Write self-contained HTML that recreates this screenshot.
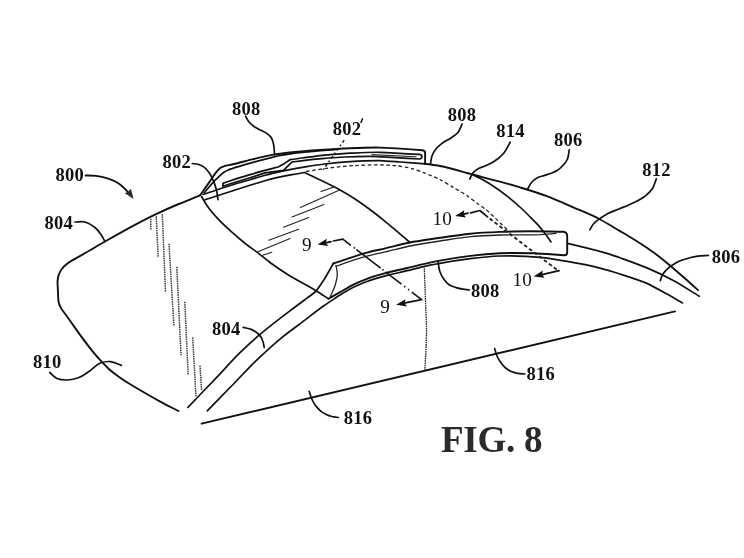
<!DOCTYPE html>
<html><head><meta charset="utf-8">
<style>
html,body{margin:0;padding:0;background:#fff;}
body{width:744px;height:558px;overflow:hidden;font-family:"Liberation Serif",serif;}
svg{display:block;filter:grayscale(100%) blur(0.4px);}
text{font-family:"Liberation Serif",serif;fill:#111;}
.b{font-weight:bold;font-size:18.5px;letter-spacing:0.25px;}
.r{font-size:19.2px;}
.m{fill:none;stroke:#111;stroke-width:1.9;stroke-linecap:round;stroke-linejoin:round;}
.t{fill:none;stroke:#222;stroke-width:1.1;stroke-linecap:round;stroke-linejoin:round;}
.l{fill:none;stroke:#111;stroke-width:1.7;stroke-linecap:round;stroke-linejoin:round;}
.h{fill:none;stroke:#383838;stroke-width:1.5;stroke-linecap:butt;}
.d{fill:none;stroke:#222;stroke-width:1.3;stroke-dasharray:3.6 2.6;}
</style></head><body>
<svg width="744" height="558" viewBox="0 0 744 558">
<rect width="744" height="558" fill="#fff"/>
<path class="m" d="M200.2,195.4 C193.0,198.3 185.8,201.0 178.7,204.0 C170.6,207.4 162.5,211.0 154.5,214.8 C146.3,218.7 138.3,223.0 130.3,227.3 C121.6,232.0 113.0,236.9 104.5,241.8 C99.6,244.6 94.8,247.5 90.0,250.3 C84.5,253.5 79.0,256.6 73.5,259.7 C64,265 57.8,271 57.5,282 L58.4,301 C58.6,304 59.6,306 61.5,309  C74.5,326.1 85.7,344.8 100.5,360.4 C103.6,363.7 106.6,367.0 110.0,370.0 C113.3,372.9 116.9,375.5 120.5,378.0 C127.0,382.6 133.9,386.5 140.7,390.5 C147.3,394.4 154.0,398.2 160.7,401.8 C166.5,405.0 172.5,407.9 178.4,411.0" />
<path class="m" d="M200.1,195.3 C202.7,191.6 207.1,185.2 209.7,181.6 C212.0,178.3 215.7,172.2 218.6,169.5 C219.3,168.9 220.4,167.7 221.2,167.3 C221.9,166.9 223.5,166.5 224.3,166.2 C226.3,165.6 230.0,165.0 232.0,164.5 C237.4,163.3 246.8,160.7 252.2,159.4 C257.5,158.1 266.9,155.9 272.3,154.9 C277.5,154.0 286.7,152.9 292.0,152.3 C299.4,151.5 312.5,150.5 320.0,150.0 C328.0,149.4 342.0,148.5 350.0,148.2 C358.0,147.9 372.0,147.4 380.0,147.6 C385.3,147.7 394.7,148.3 400.0,148.6 C406.0,149.0 416.4,149.8 422.4,150.3 C424.5,150.6 425.1,151.2 425.1,152.8 L425.1,163.8" />
<path class="l" d="M204.1,192.9 C207.3,189.2 212.7,182.6 216.2,179.2 C218.3,177.2 221.8,173.4 224.3,171.9 C225.3,171.3 227.2,170.4 228.3,169.9 C229.3,169.5 231.0,168.9 232.0,168.6 C237.3,166.8 246.8,164.1 252.2,162.6 C257.5,161.1 266.9,158.6 272.3,157.3 C274.9,156.7 279.4,155.7 282.0,155.2 C284.7,154.7 289.3,154.0 292.0,153.6 C296.8,152.9 305.2,152.1 310.0,151.6 C316.7,150.9 328.3,150.1 335.0,149.6" />
<path class="l" d="M222.9,183.4 C224.7,182.8 230.2,180.8 232.0,180.2 C235.6,179.0 246.4,175.7 250.0,174.6 C253.0,173.7 262.0,171.2 265.0,170.4 C267.7,169.7 276.0,167.5 278.7,166.8 L284.5,163.4 L290,159.7  C294.0,159.1 298.0,158.5 302.0,158.0 C309.7,157.0 317.3,155.9 325.0,155.1 C333.3,154.3 341.7,153.7 350.0,153.2 C360.0,152.7 370.0,152.1 380.0,152.3 C386.7,152.4 393.3,152.9 400.0,153.3 C406.6,153.6 413.1,154.0 419.7,154.4 C421.5,154.6 421.9,155.5 421.9,156.6 C421.9,158 421.3,158.8 419.7,159  C411.5,158.5 403.2,158.0 395.0,157.6 C386.7,157.2 378.3,156.5 370.0,156.4 C361.7,156.3 353.3,156.6 345.0,157.0 C338.3,157.3 331.7,157.8 325.0,158.3 C318.3,158.9 311.6,159.5 305.0,160.3 C300.6,160.8 296.2,161.5 291.8,162.1 L283.5,170.3 L265,172.9 L250,177.7 L232,183.2 L222.9,186.2 Z" />
<path class="t" d="M372.0,154.6 L416.0,156.7" />
<path class="l" d="M203.0,194.5 C210.7,192.0 224.2,187.4 232.0,185.0 C236.8,183.5 245.2,181.1 250.0,179.7 C254.0,178.5 261.0,176.3 265.0,175.2 C269.9,173.9 278.5,171.9 283.5,170.8 C289.3,169.6 299.5,167.7 305.3,166.8 C310.5,166.0 319.7,164.6 325.0,164.0 C331.6,163.2 343.3,162.1 350.0,161.6 C358.0,161.1 372.0,160.4 380.0,160.6 C385.3,160.8 394.7,161.6 400.0,162.0 C406.7,162.5 418.4,163.3 425.1,163.8" />
<path class="l" d="M205.0,199.8 C214.0,196.9 241.0,188.1 250.0,185.3 C253.0,184.4 262.0,181.5 265.0,180.7 C270.3,179.2 286.6,175.7 292.0,174.7 C294.5,174.2 302.0,172.9 304.5,172.5" />
<path class="m" d="M425.1,163.8 C430.1,164.5 435.1,165.1 440.0,166.0 C451.0,168.0 461.7,171.7 472.6,174.5 C481.7,176.9 490.9,179.2 500.0,181.7 C506.7,183.5 513.4,185.4 520.0,187.4 C529.0,190.1 538.1,192.8 546.9,196.1 C556.0,199.5 564.9,203.7 573.8,207.6 C582.3,211.3 591.0,214.7 599.3,219.0 C606.4,222.7 613.1,227.1 620.0,231.1 C622.2,232.4 624.5,233.7 626.7,235.0 C635.9,240.5 645.0,246.2 653.6,252.5 C659.1,256.5 664.4,260.8 669.7,265.2 C674.7,269.4 679.6,273.7 684.5,278.0 C689.0,282.0 693.5,286.1 698.0,290.1" />
<path class="l" d="M472.6,174.5 C478.4,177.7 484.4,180.5 490.0,184.0 C496.4,188.0 502.5,192.4 508.4,197.1 C512.7,200.6 516.9,204.2 521.0,208.0 C523.4,210.3 525.8,212.6 528.2,215.0 C531.3,218.1 534.6,221.1 537.5,224.4 C540.1,227.3 542.6,230.4 545.0,233.5 C547.1,236.2 549.0,239.1 551.0,241.9" />
<path class="l" d="M201.7,196.7 C203.5,199.7 205.1,202.8 207.1,205.7 C210.6,210.9 214.9,215.6 219.2,220.2 C223.0,224.2 227.2,228.0 231.3,231.7 C235.2,235.2 239.3,238.7 243.4,242.0 C248.1,245.8 253.1,249.2 257.9,252.9 C262.0,256.1 265.9,259.4 270.0,262.5 C276.1,267.0 282.4,271.2 288.8,275.2 C297.7,280.8 307.2,285.1 316.1,290.7 C320.2,293.3 324.2,296.0 328.3,298.7" />
<path class="l" d="M304.5,172.5 C313.5,176.9 329.6,184.1 338.4,189.0 C343.4,191.8 352.1,197.0 356.9,200.2 C360.6,202.7 367.0,207.3 370.6,210.0 C374.2,212.7 380.3,217.5 383.8,220.3 C388.2,223.8 395.6,230.2 399.9,233.8 C402.6,236.1 407.3,240.2 410.0,242.5" />
<path class="m" d="M333.3,263.5 C335.1,262.9 338.2,261.9 340.0,261.3 C347.2,259.0 359.6,254.6 366.9,252.6 C371.8,251.3 380.4,249.5 385.3,248.3 C391.9,246.8 403.3,243.8 409.9,242.5 C415.2,241.5 424.6,240.1 430.0,239.3 C432.7,238.9 437.3,238.2 440.0,237.8 C448.1,236.6 462.2,234.5 470.3,233.7 C478.2,232.9 492.1,232.2 500.0,231.9 C508.0,231.6 522.0,231.2 530.0,231.2 C538.9,231.2 554.3,231.6 563.2,231.8 C566,232 567.2,233.8 567.2,236.5 L567.2,252.6 C567.2,254.6 566.5,255.3 564.5,255.3  C556.3,254.8 541.8,253.6 533.6,253.3 C524.6,253.0 508.9,252.8 500.0,253.2 C492.1,253.6 478.2,254.9 470.3,255.9 C462.2,256.9 448.0,259.1 440.0,260.6 C437.3,261.1 432.7,262.0 430.0,262.6 C423.9,263.9 413.3,266.6 407.2,268.0 C401.8,269.3 392.3,271.3 387.0,272.7 C381.6,274.1 372.1,276.8 366.9,278.8 C363.2,280.2 356.9,282.9 353.4,284.6 C349.7,286.4 343.6,290.2 340.0,292.2 C337.0,293.9 331.6,297.0 328.6,298.8" />
<path class="t" d="M336.9,266.1 C337.7,265.8 339.2,265.2 340.0,264.9 C347.1,262.2 359.6,258.0 366.9,256.1 C371.8,254.8 380.4,253.0 385.3,251.9 C391.9,250.4 403.3,247.4 409.9,246.0 C417.9,244.4 432.0,242.2 440.0,241.0 C448.1,239.8 462.2,237.5 470.3,236.7 C478.2,235.9 492.1,235.3 500.0,235.0 C510.7,234.6 529.4,235.3 540.0,234.7 C544.3,234.4 551.7,233.7 556.0,233.4" style="stroke-width:1.3"/>
<path class="t" d="M335.9,265.3 C336.4,268.1 337.3,271.0 337.3,273.8 C337.4,277.9 336.1,282.1 334.9,286.0 C333.7,289.7 331.8,293.2 330.2,296.8" style="stroke-width:1.3"/>
<path class="l" d="M333.3,263.5 C331.1,267.4 326.2,276.3 323.8,280.0 C322.1,282.6 318.3,288.6 316.2,290.8 C313.9,293.3 307.2,297.9 304.5,300.0 C299.5,303.8 288.0,312.3 283.0,316.1 C277.4,320.4 264.7,330.3 259.4,334.9 C254.7,338.9 244.4,348.4 240.0,352.7 C233.9,358.6 220.9,373.0 215.0,379.2 C208.7,385.8 194.2,400.7 187.9,407.3" />
<path class="l" d="M207.3,410.8 C213.9,404.1 225.4,392.2 232.0,385.5 C238.7,378.6 250.3,366.3 257.2,359.7 C263.9,353.3 275.8,342.4 283.0,336.6 C288.6,332.1 298.8,324.7 304.5,320.4 C309.7,316.5 318.5,309.5 323.8,305.8 C326.6,303.8 331.6,300.5 334.5,298.6 C336.0,297.6 338.5,295.9 340.0,295.0 C343.5,292.8 349.7,289.1 353.4,287.3 C356.9,285.6 363.2,282.9 366.9,281.5 C372.1,279.5 381.6,276.8 387.0,275.4 C392.3,274.0 401.8,272.0 407.2,270.7 C413.3,269.3 423.9,266.5 430.0,265.2 C432.7,264.7 437.3,263.8 440.0,263.3 C448.0,261.8 462.2,259.6 470.3,258.6 C478.2,257.6 492.1,256.3 500.0,256.0 C510.7,255.6 529.6,256.2 540.3,257.3 C547.5,258.0 560.1,260.1 567.2,261.4 C576.0,262.9 591.4,265.9 600.0,268.1 C605.4,269.5 614.7,272.3 620.0,274.0 C627.2,276.3 640.0,280.3 646.9,283.4 C652.4,285.9 661.7,291.2 667.0,294.1 C671.2,296.4 678.4,300.6 682.5,302.9" />
<path class="l" d="M567.4,243.4 C570.8,244.2 576.6,245.5 580.0,246.3 C587.7,248.2 601.2,251.5 608.7,253.9 C611.7,254.9 617.0,256.7 620.0,257.8 C627.2,260.4 639.9,264.9 646.9,267.9 C654.2,271.0 666.8,276.9 673.8,280.7 C680.8,284.5 692.5,292.1 699.3,296.2" />
<path class="m" d="M201.6,423.7 L675.0,311.4" />
<path class="h" d="M424.3,268.2 L426.6,330.0 L426.0,350.0 L424.8,370.5" style="stroke:#222;stroke-width:1.3" stroke-dasharray="1.6 0.7"/>
<path class="t" d="M321.1,191.6 L334.5,186.8 M300.4,207.6 L339,190.3 M292,217 L324,204.6 M283.5,227.3 L308.7,217.6 M268.8,240.2 L298.6,229.2 M257.9,251.7 L290.1,238.6 M262.7,255.3 L271.8,252.3" />
<path class="h" d="M150.8,218.8 L150.8,230.2 M156.2,216.1 L158.2,257.6 M162.3,214.1 L165.5,292 M169,243.7 L173.9,326 M176.8,266.8 L181,355.2 M184.8,301.8 L188.2,375.3 M192.7,337.4 L196,397.1 M200,365.6 L201.6,390.6" stroke-dasharray="1.5 0.8"/>
<path class="d" d="M306.1,171.5 C312.5,170.5 323.6,168.6 330.0,167.8 C336.5,167.0 348.0,166.0 354.5,165.6 C361.3,165.2 373.2,164.8 380.0,164.9 C384.5,165.0 392.4,165.3 396.9,165.8 C401.0,166.3 408.1,167.5 412.0,168.6 C415.3,169.5 421.0,171.7 424.2,172.9 C428.5,174.5 435.9,177.4 440.0,179.5 C443.6,181.4 449.7,185.3 453.2,187.4 C456.8,189.6 463.3,193.1 466.8,195.5 C469.7,197.5 474.5,201.4 477.4,203.5 C479.4,204.9 483.0,207.3 484.9,208.8 C489.8,212.5 497.3,220.3 501.8,224.5 C503.7,226.3 507.1,229.5 509.0,231.3" />
<path class="d" d="M489.7,218.6 L556.7,269.6" style="stroke-width:1.9" stroke-dasharray="4.4 3"/>
<path class="l" d="M344.2,140.2 L321.7,171.7" style="stroke-width:1.35;stroke-linecap:butt" stroke-dasharray="3 2.6 1.6 2.6"/>
<path class="l" d="M327,242.6 L331,241.6 M333.4,241 L342.8,239.1" />
<path class="l" d="M342.8,239.1 L421.6,299.6" style="stroke-linecap:butt;stroke-width:1.55" stroke-dasharray="10.2 3.5 1.5 2 30.5 2.2 1.5 2.3 20.3 3.3 1.5 3.4 1.5 3.3 14"/>
<path class="l" d="M421.6,299.7 L404.0,303.2" />
<polygon points="317.5,244.5 326.8,238.7 326.0,242.7 328.3,246.0" fill="#111"/>
<polygon points="396.1,304.8 405.5,299.2 404.6,303.1 406.9,306.4" fill="#111"/>
<path class="l" d="M464,214.1 L468,213.2 M470.7,212.9 L479.8,210.5 L487.6,216.9" />
<polygon points="455.1,216.1 464.3,210.2 463.6,214.2 466.0,217.5" fill="#111"/>
<path class="l" d="M559.1,270.6 L542.0,274.6" />
<polygon points="533.6,276.5 542.8,270.6 542.1,274.5 544.5,277.8" fill="#111"/>
<path class="l" d="M85.6,175.5 C89.1,175.6 92.6,175.5 96.1,175.9 C100.2,176.4 104.3,177.4 108.2,178.7 C111.8,179.9 115.5,181.4 118.7,183.5 C121.1,185.1 123.2,187.2 125.2,189.2 C126.7,190.7 128.1,192.4 129.5,194.0" style="stroke-width:1.9"/>
<polygon points="133.6,198.9 124.8,193.2 128.3,191.6 130.9,188.7" fill="#2a2a2a"/>
<path class="l" d="M75.0,222.0 C78.3,222.0 81.9,221.2 85.0,222.0 C88.6,222.9 92.1,225.1 95.0,227.5 C97.3,229.5 99.3,232.0 101.0,234.5 C102.5,236.7 103.7,239.2 105.0,241.6" />
<path class="l" d="M192.3,163.5 C194.2,163.8 196.2,163.8 198.0,164.3 C200.0,164.9 202.1,165.7 203.8,166.9 C205.9,168.3 207.5,170.5 209.0,172.5 C210.7,174.9 212.0,177.6 213.2,180.3 C214.6,183.4 215.7,186.7 216.5,190.0 C217.3,193.2 217.5,196.5 218.0,199.7" />
<path class="l" d="M245.6,116.2 C246.7,118.1 247.6,120.3 249.0,122.0 C250.5,123.8 252.5,125.3 254.4,126.7 C256.4,128.1 258.8,129.1 261.0,130.3 C263.3,131.6 265.8,132.5 267.8,134.1 C269.2,135.2 270.6,136.5 271.5,138.0 C272.4,139.4 272.8,141.2 273.2,142.8 C273.7,144.8 274.0,146.9 274.2,149.0 C274.4,151.0 274.4,152.9 274.5,154.9" />
<path class="l" d="M462.1,124.1 C460.7,126.9 459.9,130.1 458.0,132.5 C456.1,134.8 453.2,136.5 450.6,138.2 C447.9,140.1 444.6,141.3 442.0,143.3 C439.8,145.0 437.6,146.8 435.9,149.0 C434.3,151.1 432.9,153.5 432.0,156.0 C431.1,158.5 431.0,161.2 430.5,163.8" />
<path class="l" d="M510.2,142.3 C508.0,146.0 506.3,150.2 503.5,153.5 C500.6,156.9 497.0,159.8 493.2,162.1 C490.6,163.7 487.8,164.8 485.0,166.0 C482.4,167.2 479.4,167.8 477.1,169.4 C475.4,170.5 473.7,171.9 472.5,173.5 C471.3,175.1 470.7,177.2 469.8,179.0" />
<path class="l" d="M569.2,149.8 C568.6,152.9 568.7,156.2 567.5,159.0 C566.4,161.5 564.5,163.8 562.6,165.8 C561.1,167.5 559.4,169.1 557.5,170.3 C555.6,171.6 553.4,172.4 551.3,173.3 C548.9,174.2 546.4,174.8 544.0,175.6 C541.8,176.3 539.4,176.6 537.4,177.7 C535.2,178.9 533.1,180.6 531.5,182.5 C529.9,184.4 529.0,186.8 527.7,189.0" />
<path class="l" d="M656.3,178.9 C655.0,182.1 654.3,185.7 652.5,188.5 C650.7,191.3 648.0,193.8 645.4,195.9 C641.8,198.9 637.3,200.9 633.0,203.0 C628.5,205.3 623.7,207.0 619.0,209.0 C615.3,210.5 611.5,211.7 608.0,213.5 C605.0,215.1 602.1,217.0 599.3,219.0 C597.3,220.5 595.1,221.8 593.5,223.7 C592.0,225.4 591.1,227.7 589.9,229.7" />
<path class="l" d="M708.4,255.3 C704.9,255.6 701.4,255.7 698.0,256.2 C695.3,256.6 692.6,257.1 689.9,257.8 C685.3,259.0 680.6,260.4 676.5,262.6 C672.6,264.7 668.7,267.3 665.7,270.6 C664.4,272.0 663.1,273.6 662.2,275.3 C661.3,277.0 660.9,278.9 660.3,280.7" />
<path class="l" d="M438.1,262.4 C438.7,265.6 438.9,269.0 440.0,272.0 C441.0,274.6 442.4,277.2 444.1,279.5 C445.5,281.4 447.1,283.4 449.0,284.7 C451.1,286.1 453.7,286.8 456.2,287.6 C458.4,288.3 460.7,288.8 463.0,289.2 C465.1,289.6 467.2,289.7 469.3,290.0" />
<path class="l" d="M243.2,327.4 C246.1,328.1 249.1,328.4 251.8,329.6 C254.6,330.9 257.5,332.6 259.4,334.9 C260.8,336.5 261.8,338.5 262.6,340.5 C263.5,342.6 263.7,345.0 264.2,347.3" />
<path class="l" d="M49.7,372.5 C52.1,374.5 54.2,377.2 57.0,378.5 C60.2,380.0 64.2,380.1 67.8,380.0 C71.6,379.9 75.5,378.9 79.0,377.5 C82.6,376.1 85.8,373.6 89.0,371.5 C93.0,368.9 96.1,364.6 100.5,363.0 C103.6,361.9 107.2,361.3 110.5,361.6 C114.2,361.9 117.8,364.1 121.4,365.4" />
<path class="l" d="M309.2,391.3 C310.1,394.0 310.8,396.9 312.0,399.5 C313.1,401.9 314.5,404.3 316.2,406.4 C317.6,408.2 319.2,409.9 321.0,411.3 C322.6,412.5 324.5,413.5 326.3,414.4 C328.1,415.3 330.1,416.0 332.0,416.5 C334.1,417.0 336.3,417.2 338.4,417.5" />
<path class="l" d="M494.6,348.5 C495.4,351.0 495.9,353.6 497.0,356.0 C498.0,358.2 499.2,360.3 500.6,362.3 C501.9,364.1 503.3,366.0 505.0,367.5 C506.7,369.0 508.7,370.3 510.7,371.3 C512.8,372.3 515.2,372.9 517.5,373.3 C519.9,373.8 522.4,373.8 524.8,374.0" />
<path class="l" d="M362.5,118.8 L361.0,122.4" style="stroke-width:1.5"/>
<g>
<text class="b" x="55.4" y="181.3" >800</text>
<text class="b" x="44.4" y="228.8" >804</text>
<text class="b" x="162.4" y="167.9" >802</text>
<text class="b" x="232.0" y="114.5" >808</text>
<text class="b" x="332.7" y="135.1" >802</text>
<text class="b" x="447.8" y="121.2" >808</text>
<text class="b" x="496.2" y="136.8" >814</text>
<text class="b" x="553.9" y="146.4" >806</text>
<text class="b" x="642.3" y="176.2" >812</text>
<text class="b" x="711.7" y="262.8" >806</text>
<text class="b" x="471.0" y="296.7" >808</text>
<text class="b" x="212.1" y="335.0" >804</text>
<text class="b" x="33.1" y="367.7" >810</text>
<text class="b" x="343.7" y="423.9" >816</text>
<text class="b" x="526.6" y="380.4" >816</text>
<text class="r" x="302.0" y="250.9" >9</text>
<text class="r" x="380.3" y="313.0" >9</text>
<text class="r" x="432.6" y="225.3" >10</text>
<text class="r" x="512.6" y="286.0" >10</text>
<text x="441" y="452" style="font-weight:bold;font-size:37px;letter-spacing:-0.28px;fill:#2a2a2a">FIG. 8</text>
</g>
</svg>
</body></html>
